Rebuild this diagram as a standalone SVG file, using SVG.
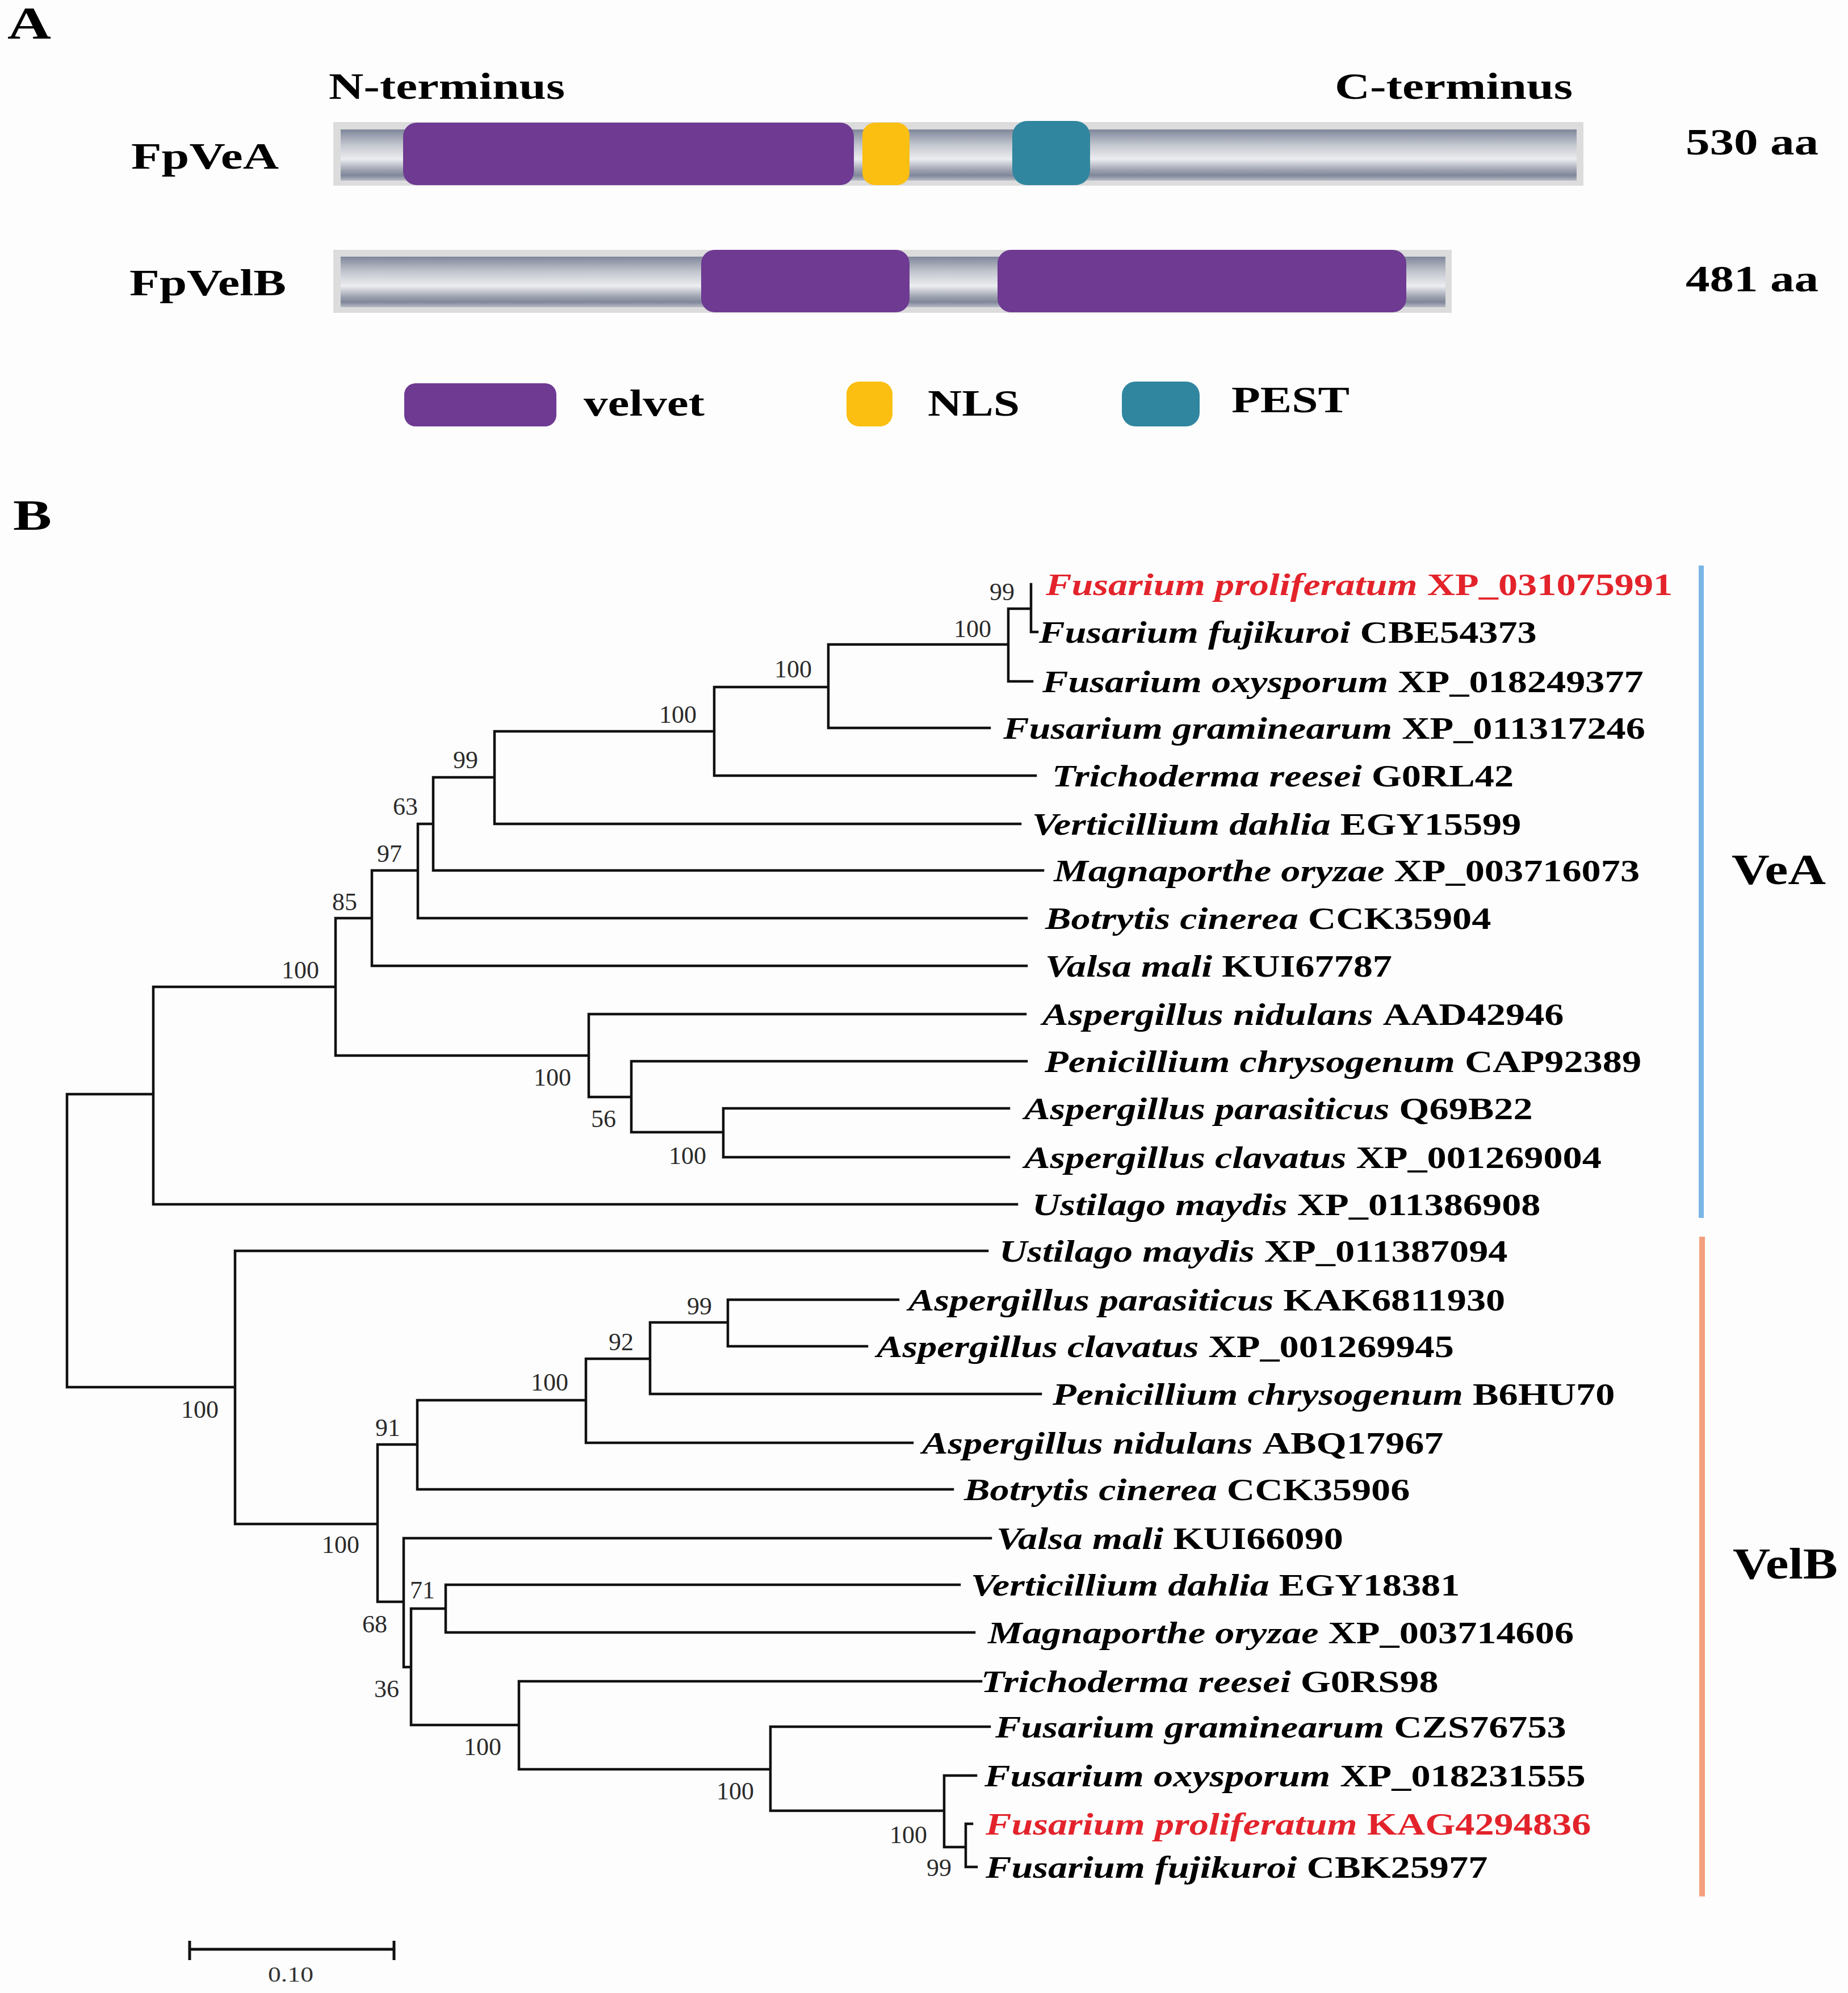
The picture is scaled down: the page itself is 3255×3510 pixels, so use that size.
<svg xmlns="http://www.w3.org/2000/svg" width="3255" height="3510" viewBox="0 0 3255 3510">
<defs>
<linearGradient id="bar" x1="0" y1="0" x2="0" y2="1">
<stop offset="0" stop-color="#7f879a"/>
<stop offset="0.3" stop-color="#c2c6ce"/>
<stop offset="0.58" stop-color="#ecedf0"/>
<stop offset="0.8" stop-color="#9ba0ae"/>
<stop offset="0.9" stop-color="#7f879a"/>
<stop offset="1" stop-color="#b7bac3"/>
</linearGradient>
<style>
.t{font-family:"Liberation Serif","Times New Roman",serif;font-weight:bold;fill:#000}
.sp{font-style:italic}
.lbl{font-size:55px}
.red{fill:#e3232b}
.bs{font-family:"Liberation Serif","Times New Roman",serif;font-size:44px;fill:#2a2a2a;text-anchor:middle}
.br{stroke:#111;stroke-width:4.5;fill:none;stroke-linecap:square}
.outer{fill:#dcdcdd}
.inner{fill:url(#bar)}
.vel{fill:#6e3a92}
.nls{fill:#fbbf12}
.pest{fill:#30869e}
</style>
</defs>
<rect width="3255" height="3510" fill="#fdfdfd"/>

<!-- Panel A -->
<text class="t" x="13" y="68" font-size="80" textLength="77" lengthAdjust="spacingAndGlyphs">A</text>
<text class="t" x="579" y="174" font-size="66" textLength="416" lengthAdjust="spacingAndGlyphs">N-terminus</text>
<text class="t" x="2351" y="174" font-size="66" textLength="419" lengthAdjust="spacingAndGlyphs">C-terminus</text>

<g id="FpVeA">
<text class="t" x="231" y="297" font-size="66" textLength="260" lengthAdjust="spacingAndGlyphs">FpVeA</text>
<rect class="outer" x="587" y="215" width="2202" height="112"/>
<rect class="inner" x="600" y="228" width="2177" height="90"/>
<rect class="vel" x="710" y="216" width="794" height="110" rx="24"/>
<rect class="nls" x="1519" y="216" width="83" height="110" rx="22"/>
<rect class="pest" x="1783" y="213" width="137" height="113" rx="26"/>
<text class="t" x="2969" y="272" font-size="66" textLength="234" lengthAdjust="spacingAndGlyphs">530 aa</text>
</g>

<g id="FpVelB">
<text class="t" x="228" y="520" font-size="66" textLength="276" lengthAdjust="spacingAndGlyphs">FpVelB</text>
<rect class="outer" x="587" y="440" width="1970" height="111"/>
<rect class="inner" x="600" y="452" width="1946" height="89"/>
<rect class="vel" x="1235" y="440" width="367" height="110" rx="24"/>
<rect class="vel" x="1757" y="440" width="720" height="110" rx="24"/>
<text class="t" x="2969" y="513" font-size="66" textLength="234" lengthAdjust="spacingAndGlyphs">481 aa</text>
</g>

<g id="legend">
<rect class="vel" x="712" y="675" width="268" height="76" rx="20"/>
<text class="t" x="1028" y="732" font-size="66" textLength="213" lengthAdjust="spacingAndGlyphs">velvet</text>
<rect class="nls" x="1491" y="672" width="81" height="79" rx="22"/>
<text class="t" x="1634" y="732" font-size="66" textLength="162" lengthAdjust="spacingAndGlyphs">NLS</text>
<rect class="pest" x="1976" y="672" width="137" height="79" rx="24"/>
<text class="t" x="2169" y="726" font-size="66" textLength="208" lengthAdjust="spacingAndGlyphs">PEST</text>
</g>

<!-- Panel B -->
<text class="t" x="23" y="933" font-size="77" textLength="68" lengthAdjust="spacingAndGlyphs">B</text>

<g id="connectors">
<path class="br" d="
M118,1927 V2443 M118,1927 H270 M118,2443 H414
M270,1738 V2121 M270,1738 H591 M270,2121 H1791
M591,1617 V1859 M591,1617 H655 M591,1859 H1037
M655,1533 V1701 M655,1533 H736 M655,1701 H1808
M736,1451 V1617 M736,1451 H763 M736,1617 H1808
M763,1369 V1533 M763,1369 H871 M763,1533 H1837
M871,1288 V1451 M871,1288 H1258 M871,1451 H1797
M1258,1210 V1366 M1258,1210 H1459 M1258,1366 H1824
M1459,1135 V1282 M1459,1135 H1776 M1459,1282 H1743
M1776,1072 V1200 M1776,1072 H1816 M1776,1200 H1818
M1816,1029 V1113 M1816,1113 H1827
M1037,1786 V1932 M1037,1786 H1806 M1037,1932 H1112
M1112,1869 V1994 M1112,1869 H1808 M1112,1994 H1274
M1274,1952 V2038 M1274,1952 H1777 M1274,2038 H1777
M414,2203 V2684 M414,2203 H1739 M414,2684 H665
M665,2544 V2821 M665,2544 H735 M665,2821 H711
M735,2466 V2623 M735,2466 H1032 M735,2623 H1678
M1032,2393 V2541 M1032,2393 H1145 M1032,2541 H1607
M1145,2329 V2455 M1145,2329 H1282 M1145,2455 H1833
M1282,2289 V2371 M1282,2289 H1582 M1282,2371 H1527
M711,2709 V2936 M711,2709 H1745 M711,2936 H724
M724,2833 V3038 M724,2833 H785 M724,3038 H914
M785,2791 V2875 M785,2791 H1690 M785,2875 H1716
M914,2961 V3116 M914,2961 H1728 M914,3116 H1357
M1357,3041 V3189 M1357,3041 H1743 M1357,3189 H1663
M1663,3127 V3253 M1663,3127 H1719 M1663,3253 H1701
M1701,3212 V3288 M1701,3212 H1712 M1701,3288 H1720
"/>
</g>

<g id="bootstrap">
<text class="bs" x="1765" y="1057">99</text>
<text class="bs" x="1713" y="1122">100</text>
<text class="bs" x="1397" y="1193">100</text>
<text class="bs" x="1194" y="1273">100</text>
<text class="bs" x="820" y="1353">99</text>
<text class="bs" x="714" y="1435">63</text>
<text class="bs" x="686" y="1518">97</text>
<text class="bs" x="607" y="1603">85</text>
<text class="bs" x="529" y="1723">100</text>
<text class="bs" x="973" y="1912">100</text>
<text class="bs" x="1063" y="1985">56</text>
<text class="bs" x="1211" y="2050">100</text>
<text class="bs" x="352" y="2497">100</text>
<text class="bs" x="600" y="2735">100</text>
<text class="bs" x="683" y="2529">91</text>
<text class="bs" x="968" y="2449">100</text>
<text class="bs" x="1094" y="2378">92</text>
<text class="bs" x="1232" y="2315">99</text>
<text class="bs" x="744" y="2815">71</text>
<text class="bs" x="660" y="2875">68</text>
<text class="bs" x="681" y="2989">36</text>
<text class="bs" x="850" y="3091">100</text>
<text class="bs" x="1295" y="3169">100</text>
<text class="bs" x="1600" y="3246">100</text>
<text class="bs" x="1654" y="3304">99</text>
</g>

<g id="leaves">
<g id="veA-1" transform="translate(1842,1048) scale(1.242,1)"><text class="t lbl red"><tspan class="sp">Fusarium proliferatum </tspan>XP_031075991</text></g>
<g id="veA-2" transform="translate(1830,1132) scale(1.242,1)"><text class="t lbl"><tspan class="sp">Fusarium fujikuroi </tspan>CBE54373</text></g>
<g id="veA-3" transform="translate(1836,1219) scale(1.242,1)"><text class="t lbl"><tspan class="sp">Fusarium oxysporum </tspan>XP_018249377</text></g>
<g id="veA-4" transform="translate(1767,1301) scale(1.242,1)"><text class="t lbl"><tspan class="sp">Fusarium graminearum </tspan>XP_011317246</text></g>
<g id="veA-5" transform="translate(1853,1385) scale(1.242,1)"><text class="t lbl"><tspan class="sp">Trichoderma reesei </tspan>G0RL42</text></g>
<g id="veA-6" transform="translate(1818,1470) scale(1.242,1)"><text class="t lbl"><tspan class="sp">Verticillium dahlia </tspan>EGY15599</text></g>
<g id="veA-7" transform="translate(1856,1552) scale(1.242,1)"><text class="t lbl"><tspan class="sp">Magnaporthe oryzae </tspan>XP_003716073</text></g>
<g id="veA-8" transform="translate(1841,1636) scale(1.242,1)"><text class="t lbl"><tspan class="sp">Botrytis cinerea </tspan>CCK35904</text></g>
<g id="veA-9" transform="translate(1841,1720) scale(1.242,1)"><text class="t lbl"><tspan class="sp">Valsa mali </tspan>KUI67787</text></g>
<g id="veA-10" transform="translate(1836,1805) scale(1.242,1)"><text class="t lbl"><tspan class="sp">Aspergillus nidulans </tspan>AAD42946</text></g>
<g id="veA-11" transform="translate(1840,1888) scale(1.242,1)"><text class="t lbl"><tspan class="sp">Penicillium chrysogenum </tspan>CAP92389</text></g>
<g id="veA-12" transform="translate(1804,1971) scale(1.242,1)"><text class="t lbl"><tspan class="sp">Aspergillus parasiticus </tspan>Q69B22</text></g>
<g id="veA-13" transform="translate(1804,2057) scale(1.242,1)"><text class="t lbl"><tspan class="sp">Aspergillus clavatus </tspan>XP_001269004</text></g>
<g id="veA-14" transform="translate(1818,2140) scale(1.242,1)"><text class="t lbl"><tspan class="sp">Ustilago maydis </tspan>XP_011386908</text></g>
<g id="velB-1" transform="translate(1760,2222) scale(1.242,1)"><text class="t lbl"><tspan class="sp">Ustilago maydis </tspan>XP_011387094</text></g>
<g id="velB-2" transform="translate(1600,2308) scale(1.242,1)"><text class="t lbl"><tspan class="sp">Aspergillus parasiticus </tspan>KAK6811930</text></g>
<g id="velB-3" transform="translate(1544,2390) scale(1.242,1)"><text class="t lbl"><tspan class="sp">Aspergillus clavatus </tspan>XP_001269945</text></g>
<g id="velB-4" transform="translate(1854,2474) scale(1.242,1)"><text class="t lbl"><tspan class="sp">Penicillium chrysogenum </tspan>B6HU70</text></g>
<g id="velB-5" transform="translate(1624,2560) scale(1.242,1)"><text class="t lbl"><tspan class="sp">Aspergillus nidulans </tspan>ABQ17967</text></g>
<g id="velB-6" transform="translate(1698,2642) scale(1.242,1)"><text class="t lbl"><tspan class="sp">Botrytis cinerea </tspan>CCK35906</text></g>
<g id="velB-7" transform="translate(1755,2728) scale(1.242,1)"><text class="t lbl"><tspan class="sp">Valsa mali </tspan>KUI66090</text></g>
<g id="velB-8" transform="translate(1710,2810) scale(1.242,1)"><text class="t lbl"><tspan class="sp">Verticillium dahlia </tspan>EGY18381</text></g>
<g id="velB-9" transform="translate(1740,2894) scale(1.242,1)"><text class="t lbl"><tspan class="sp">Magnaporthe oryzae </tspan>XP_003714606</text></g>
<g id="velB-10" transform="translate(1728,2980) scale(1.242,1)"><text class="t lbl"><tspan class="sp">Trichoderma reesei </tspan>G0RS98</text></g>
<g id="velB-11" transform="translate(1753,3060) scale(1.242,1)"><text class="t lbl"><tspan class="sp">Fusarium graminearum </tspan>CZS76753</text></g>
<g id="velB-12" transform="translate(1734,3146) scale(1.242,1)"><text class="t lbl"><tspan class="sp">Fusarium oxysporum </tspan>XP_018231555</text></g>
<g id="velB-13" transform="translate(1736,3231) scale(1.242,1)"><text class="t lbl red"><tspan class="sp">Fusarium proliferatum </tspan>KAG4294836</text></g>
<g id="velB-14" transform="translate(1736,3307) scale(1.242,1)"><text class="t lbl"><tspan class="sp">Fusarium fujikuroi </tspan>CBK25977</text></g>
</g>

<g id="clade-VeA">
<rect x="2992" y="996" width="9" height="1149" fill="#7ab6e6"/>
<text class="t" x="3050" y="1557" font-size="77" textLength="166" lengthAdjust="spacingAndGlyphs">VeA</text>
</g>
<g id="clade-VelB">
<rect x="2993" y="2178" width="10" height="1162" fill="#f5a07c"/>
<text class="t" x="3052" y="2780" font-size="78" textLength="185" lengthAdjust="spacingAndGlyphs">VelB</text>
</g>

<g id="scalebar">
<path d="M334,3433 H694 M334,3418 V3452 M694,3418 V3452" stroke="#111" stroke-width="5" fill="none"/>
<text x="472" y="3490" font-family="Liberation Serif, serif" font-size="38" fill="#333" textLength="80" lengthAdjust="spacingAndGlyphs">0.10</text>
</g>
</svg>
